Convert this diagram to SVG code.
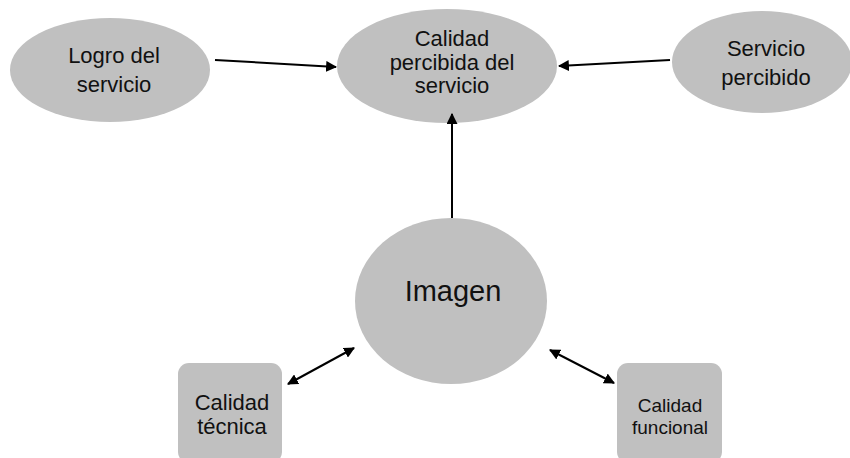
<svg xmlns="http://www.w3.org/2000/svg" width="850" height="458" viewBox="0 0 850 458">
  <style>
    .node { fill: #c0c0c0; stroke: none; }
    .lbl { font-family: "Liberation Sans", Arial, sans-serif; fill: #111; text-anchor: middle; }
    .edge { stroke: #000; stroke-width: 2; fill: none; }
  </style>
  <defs>
    <marker id="arrow" viewBox="0 0 10 10" refX="9" refY="5" markerWidth="5.5" markerHeight="5.5" orient="auto-start-reverse" markerUnits="strokeWidth">
      <path d="M0,0 L10,5 L0,10 z" fill="#000"/>
    </marker>
  </defs>
  <rect width="850" height="458" fill="#fff"/>

  <g id="logro">
    <ellipse class="node" cx="110" cy="70" rx="100" ry="52"/>
    <text class="lbl" font-size="22" x="114" y="63">Logro del</text>
    <text class="lbl" font-size="22" x="114" y="92">servicio</text>
  </g>
  <g id="calidad-percibida">
    <ellipse class="node" cx="447" cy="66" rx="110" ry="57"/>
    <text class="lbl" font-size="22" x="452" y="46">Calidad</text>
    <text class="lbl" font-size="22" x="452" y="70">percibida del</text>
    <text class="lbl" font-size="22" x="452" y="93">servicio</text>
  </g>
  <g id="servicio-percibido">
    <ellipse class="node" cx="762" cy="62" rx="90" ry="51"/>
    <text class="lbl" font-size="22" x="766" y="56">Servicio</text>
    <text class="lbl" font-size="22" x="766" y="85">percibido</text>
  </g>
  <g id="imagen">
    <ellipse class="node" cx="451" cy="301" rx="96" ry="83"/>
    <text class="lbl" font-size="29" x="453" y="301">Imagen</text>
  </g>
  <g id="calidad-tecnica">
    <rect class="node" x="178" y="363" width="104" height="100" rx="11"/>
    <text class="lbl" font-size="22" x="232" y="410">Calidad</text>
    <text class="lbl" font-size="22" x="232" y="434">técnica</text>
  </g>
  <g id="calidad-funcional">
    <rect class="node" x="617" y="363" width="105" height="100" rx="11"/>
    <text class="lbl" font-size="19" x="670" y="412">Calidad</text>
    <text class="lbl" font-size="19" x="670" y="434">funcional</text>
  </g>

  <g id="connectors">
    <line class="edge" x1="215" y1="60" x2="336" y2="67" marker-end="url(#arrow)"/>
    <line class="edge" x1="670" y1="60" x2="559" y2="66" marker-end="url(#arrow)"/>
    <line class="edge" x1="452" y1="218" x2="452" y2="114" marker-end="url(#arrow)"/>
    <line class="edge" x1="288" y1="384" x2="354" y2="348" marker-start="url(#arrow)" marker-end="url(#arrow)"/>
    <line class="edge" x1="550" y1="350" x2="614" y2="383" marker-start="url(#arrow)" marker-end="url(#arrow)"/>
  </g>
</svg>
